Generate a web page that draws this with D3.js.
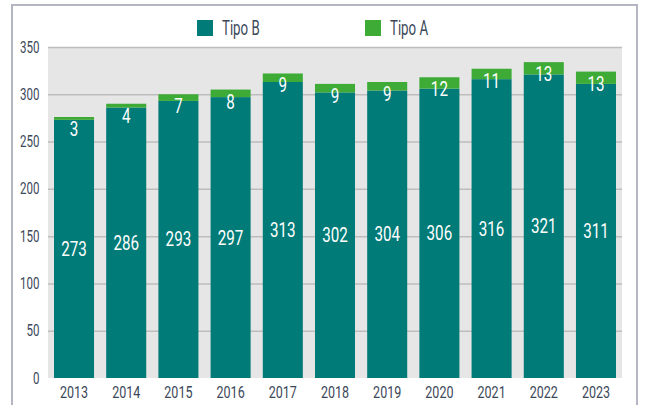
<!DOCTYPE html>
<html>
<head>
<meta charset="utf-8">
<script src="https://cdn.jsdelivr.net/npm/d3@7"></script>
<style>
  body { margin: 0; background: #fff; }
  text { font-family: Roboto, "Liberation Sans", sans-serif; }
</style>
</head>
<body>
<div id="chart"></div>
<script>
// data
const years = ["2013", "2014", "2015", "2016", "2017", "2018", "2019", "2020", "2021", "2022", "2023"];
const tipoB = [273, 286, 293, 297, 313, 302, 304, 306, 316, 321, 311];
const tipoA = [3, 4, 7, 8, 9, 9, 9, 12, 11, 13, 13];
const yTicks = [0, 50, 100, 150, 200, 250, 300, 350];
const seriesNames = ["Tipo B", "Tipo A"];
const seriesColors = ["#007b78", "#3dab36"];

const W = 645, H = 405;
const plot = { left: 48, right: 622, top: 47, bottom: 378 };
const textColor = "#3b4758";

// no condensed font installed -> squeeze text horizontally
const squeeze = (sel, k) => sel.each(function () {
    const t = d3.select(this);
    const x0 = +t.attr("x") || 0;
    t.attr("x", x0 / k).attr("transform", `scale(${k},1)`);
});

const svg = d3.select("#chart").append("svg")
    .attr("width", W)
    .attr("height", H);

// 1. frame around the figure
svg.append("path")
    .attr("d", `M12,${H} V5 H637 V${H}`)
    .attr("fill", "none")
    .attr("stroke", "#b4b7c3")
    .attr("stroke-width", 2);

// 2. scales
const x = d3.scaleBand()
    .domain(years)
    .range([plot.left, plot.right])
    .paddingInner(0.233)
    .paddingOuter(0.115);

const y = d3.scaleLinear()
    .domain([0, 350])
    .range([plot.bottom, plot.top]);

// 3. grey plot background + grid lines
svg.append("rect")
    .attr("x", plot.left)
    .attr("y", plot.top)
    .attr("width", plot.right - plot.left)
    .attr("height", plot.bottom - plot.top)
    .attr("fill", "#e6e6e6");

const yAxis = svg.append("g")
    .attr("transform", `translate(${plot.left},0)`)
    .call(d3.axisLeft(y).tickValues(yTicks).tickSize(-(plot.right - plot.left)).tickPadding(8.5));

yAxis.select(".domain").remove();
yAxis.selectAll(".tick line")
    .attr("stroke", "#bdbdbd")
    .attr("stroke-width", 1.5)
    .attr("display", d => d === 0 ? "none" : null);
yAxis.selectAll(".tick text")
    .attr("fill", textColor)
    .style("font-size", "16px")
    .call(squeeze, 0.72);

// 4. stacked bars
const stackData = years.map((yr, i) => ({ year: yr, b: tipoB[i], a: tipoA[i] }));
const stacked = d3.stack().keys(["b", "a"])(stackData);

const layers = svg.selectAll("g.layer")
    .data(stacked)
    .join("g")
    .attr("class", "layer")
    .attr("fill", (d, i) => seriesColors[i]);

layers.selectAll("rect")
    .data(d => d)
    .join("rect")
    .attr("x", d => x(d.data.year))
    .attr("y", d => y(d[1]))
    .attr("width", x.bandwidth())
    .attr("height", d => y(d[0]) - y(d[1]));

// 5. value labels
svg.selectAll("text.lab-b")
    .data(stacked[0])
    .join("text")
    .attr("class", "lab-b")
    .attr("x", d => x(d.data.year) + x.bandwidth() / 2)
    .attr("y", d => (y(d[0]) + y(d[1])) / 2)
    .attr("dy", "0.35em")
    .attr("text-anchor", "middle")
    .attr("fill", "#fff")
    .style("font-size", "20px")
    .text(d => d.data.b)
    .call(squeeze, 0.76);

svg.selectAll("text.lab-a")
    .data(stacked[1])
    .join("text")
    .attr("class", "lab-a")
    .attr("x", d => x(d.data.year) + x.bandwidth() / 2)
    .attr("y", d => y(d[1]) + 19)
    .attr("text-anchor", "middle")
    .attr("fill", "#fff")
    .style("font-size", "20px")
    .text(d => d.data.a)
    .call(squeeze, 0.76);

// 6. year labels
const xAxis = svg.append("g")
    .attr("transform", `translate(0,${plot.bottom})`)
    .call(d3.axisBottom(x).tickSize(0).tickPadding(8));
xAxis.select(".domain").remove();
xAxis.selectAll(".tick text")
    .attr("fill", textColor)
    .style("font-size", "16.5px")
    .call(squeeze, 0.76);

// 7. legend
const legendX = [197, 365];
seriesNames.forEach((name, i) => {
    const g = svg.append("g").attr("transform", `translate(${legendX[i]},20)`);
    g.append("rect")
        .attr("width", 16)
        .attr("height", 16)
        .attr("fill", seriesColors[i]);
    g.append("text")
        .attr("x", 25)
        .attr("y", 15)
        .attr("fill", textColor)
        .style("font-size", "19.5px")
        .text(name)
        .call(squeeze, 0.68);
});
</script>
</body>
</html>
